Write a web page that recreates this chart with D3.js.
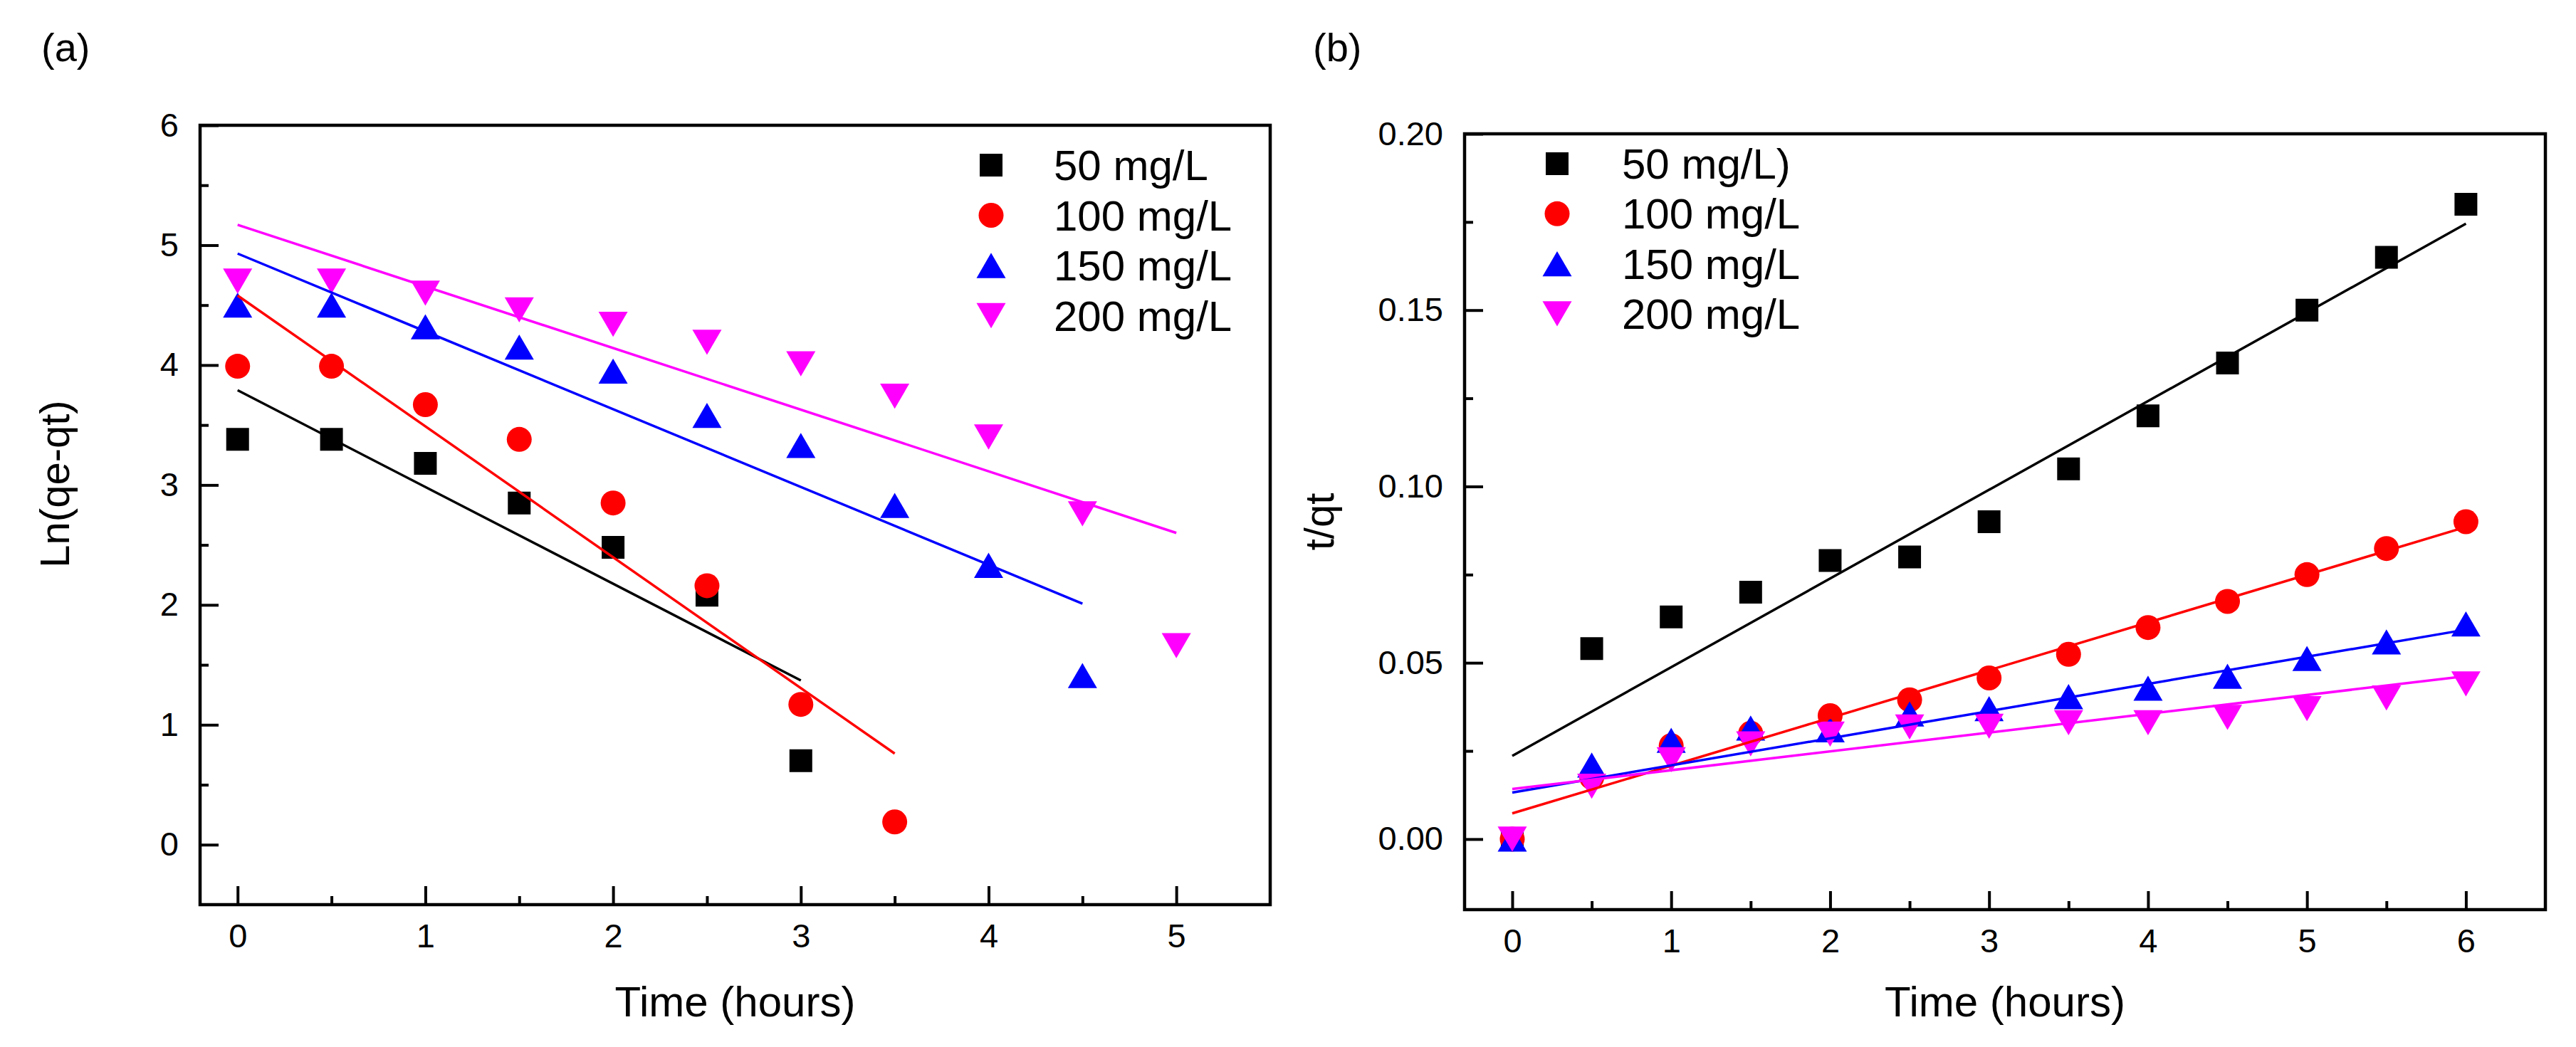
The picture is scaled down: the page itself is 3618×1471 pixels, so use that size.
<!DOCTYPE html>
<html>
<head>
<meta charset="utf-8">
<script src="https://cdn.jsdelivr.net/npm/d3@7"></script>
<style>
	body { margin: 0; background: #fff; }
	svg text { font-family: "Liberation Sans", Arial, sans-serif; fill: #000; }
</style>
</head>
<body>
<svg id="chart" width="3618" height="1471"></svg>
<script>
// values
const seriesNamesA = ["50 mg/L", "100 mg/L", "150 mg/L", "200 mg/L"];
const seriesNamesB = ["50 mg/L)", "100 mg/L", "150 mg/L", "200 mg/L"];
const seriesColors = ["#000000", "#ff0000", "#0000ff", "#ff00ff"];
const seriesShapes = ["square", "circle", "triangleUp", "triangleDown"];

// (a) pseudo-first-order, Ln(qe-qt)
const timeA = [0, 0.5, 1, 1.5, 2, 2.5, 3, 3.5, 4, 4.5, 5];
const lnA50 = [3.38, 3.38, 3.18, 2.85, 2.48, 2.08, 0.70];
const lnA100 = [3.99, 3.99, 3.67, 3.38, 2.85, 2.16, 1.17, 0.19];
const lnA150 = [4.50, 4.50, 4.32, 4.15, 3.95, 3.58, 3.33, 2.83, 2.33, 1.41];
const lnA200 = [4.70, 4.70, 4.60, 4.46, 4.34, 4.19, 4.01, 3.74, 3.40, 2.76, 1.66];
// linear fit ends: value at t=0 and at the last time
const fitAEndTime = [3, 3.5, 4.5, 5];
const fitAStart = [3.79, 4.58, 4.93, 5.17];
const fitAEnd = [1.37, 0.76, 2.01, 2.60];

// (b) pseudo-second-order, t/qt
const timeB = [0, 0.5, 1, 1.5, 2, 2.5, 3, 3.5, 4, 4.5, 5, 5.5, 6];
const tqB50 = [0, 0.054, 0.063, 0.070, 0.079, 0.080, 0.090, 0.105, 0.120, 0.135, 0.150, 0.165, 0.180];
const tqB100 = [0, 0.0175, 0.0265, 0.030, 0.035, 0.0395, 0.0457, 0.0524, 0.060, 0.0674, 0.075, 0.0824, 0.090];
const tqB150 = [0, 0.021, 0.028, 0.0315, 0.031, 0.0355, 0.037, 0.0404, 0.0428, 0.0462, 0.0512, 0.0559, 0.061];
const tqB200 = [0, 0.015, 0.0225, 0.027, 0.0298, 0.0318, 0.032, 0.033, 0.033, 0.0345, 0.037, 0.040, 0.044];
const fitBEndTime = [6, 6, 6, 6];
const fitBStart = [0.0236, 0.0073, 0.0132, 0.0142];
const fitBEnd = [0.1745, 0.0885, 0.0594, 0.0462];

// tick values
const ticksAX = [0, 1, 2, 3, 4, 5];
const minorAX = [0.5, 1.5, 2.5, 3.5, 4.5];
const ticksAY = [0, 1, 2, 3, 4, 5, 6];
const minorAY = [0.5, 1.5, 2.5, 3.5, 4.5, 5.5];
const ticksBX = [0, 1, 2, 3, 4, 5, 6];
const minorBX = [0.5, 1.5, 2.5, 3.5, 4.5, 5.5];
const ticksBY = [0, 0.05, 0.10, 0.15, 0.20];
const minorBY = [0.025, 0.075, 0.125, 0.175];

const FONT = "Liberation Sans, Arial, sans-serif";
const TICK_FONT = 47;
const TITLE_FONT = 60;
const MAJOR_TICK = 26;
const MINOR_TICK = 12;

const svg = d3.select("#chart");
svg.append("rect")
	.attr("width", 3618)
	.attr("height", 1471)
	.attr("fill", "#fff");

// symbols centred on their bounding box, like Origin draws them
const triangleUp = {
	draw(context, size) {
		const w = Math.sqrt(size), h = w * 0.86;
		context.moveTo(0, -h / 2);
		context.lineTo(w / 2, h / 2);
		context.lineTo(-w / 2, h / 2);
		context.closePath();
	}
};
const triangleDown = {
	draw(context, size) {
		const w = Math.sqrt(size), h = w * 0.86;
		context.moveTo(0, h / 2);
		context.lineTo(w / 2, -h / 2);
		context.lineTo(-w / 2, -h / 2);
		context.closePath();
	}
};
const symbolTypes = {
	square: [d3.symbolSquare, 32 * 32],
	circle: [d3.symbolCircle, Math.PI * 17.5 * 17.5],
	triangleUp: [triangleUp, 41 * 41],
	triangleDown: [triangleDown, 41 * 41]
};

function symbolPath(shape) {
	const [type, size] = symbolTypes[shape];
	return d3.symbol().type(type).size(size)();
}

function styleAxis(sel, fontSize) {
	sel.select(".domain").remove();
	sel.attr("font-family", FONT)
		.attr("font-size", fontSize);
	sel.selectAll(".tick line")
		.attr("stroke", "#000")
		.attr("stroke-width", 4);
	sel.selectAll(".tick text")
		.attr("fill", "#000");
}

function drawPanel(p) {
	const g = svg.append("g").attr("class", "panel");

	const x = d3.scaleLinear().domain(p.xDomain).range([p.left, p.right]);
	const y = d3.scaleLinear().domain(p.yDomain).range([p.bottom, p.top]);

	// axes, ticks pointing inwards
	g.append("g")
		.attr("transform", `translate(0,${p.bottom})`)
		.call(d3.axisBottom(x).tickValues(p.minorX).tickSize(-MINOR_TICK).tickFormat(""))
		.call(styleAxis, TICK_FONT);
	g.append("g")
		.attr("transform", `translate(0,${p.bottom})`)
		.call(d3.axisBottom(x).tickValues(p.ticksX).tickSize(-MAJOR_TICK).tickPadding(27).tickFormat(d3.format("d")))
		.call(styleAxis, TICK_FONT);
	g.append("g")
		.attr("transform", `translate(${p.left},0)`)
		.call(d3.axisLeft(y).tickValues(p.minorY).tickSize(-MINOR_TICK).tickFormat(""))
		.call(styleAxis, TICK_FONT);
	g.append("g")
		.attr("transform", `translate(${p.left},0)`)
		.call(d3.axisLeft(y).tickValues(p.ticksY).tickSize(-MAJOR_TICK).tickPadding(30).tickFormat(p.yFormat))
		.call(styleAxis, TICK_FONT);

	// frame
	g.append("rect")
		.attr("x", p.left)
		.attr("y", p.top)
		.attr("width", p.right - p.left)
		.attr("height", p.bottom - p.top)
		.attr("fill", "none")
		.attr("stroke", "#000")
		.attr("stroke-width", 4.5);

	// points, drawn in series order so later series sit on top
	p.series.forEach((values, i) => {
		const pts = values.map((v, j) => [p.time[j], v]);
		g.append("g")
			.selectAll("path")
			.data(pts)
			.join("path")
			.attr("transform", d => `translate(${x(d[0])},${y(d[1])})`)
			.attr("d", symbolPath(seriesShapes[i]))
			.attr("fill", seriesColors[i]);
	});

	// linear fits
	const line = d3.line().x(d => x(d[0])).y(d => y(d[1]));
	p.fitStart.forEach((v0, i) => {
		g.append("path")
			.attr("d", line([[0, v0], [p.fitEndTime[i], p.fitEnd[i]]]))
			.attr("fill", "none")
			.attr("stroke", seriesColors[i])
			.attr("stroke-width", 3.5);
	});

	// legend
	const legend = g.append("g").attr("class", "legend");
	p.names.forEach((name, i) => {
		const ly = p.legend.y0 + i * p.legend.dy;
		legend.append("path")
			.attr("transform", `translate(${p.legend.symX},${ly})`)
			.attr("d", symbolPath(seriesShapes[i]))
			.attr("fill", seriesColors[i]);
		legend.append("text")
			.attr("x", p.legend.textX)
			.attr("y", ly)
			.attr("dy", "0.35em")
			.attr("font-size", TITLE_FONT)
			.text(name);
	});

	// titles
	g.append("text")
		.attr("x", (p.left + p.right) / 2)
		.attr("y", 1428)
		.attr("text-anchor", "middle")
		.attr("font-size", TITLE_FONT)
		.text("Time (hours)");
	g.append("text")
		.attr("transform", `translate(${p.left - 184},${p.yTitleCenter}) rotate(-90)`)
		.attr("text-anchor", "middle")
		.attr("font-size", TITLE_FONT - 2)
		.text(p.yTitle);
	g.append("text")
		.attr("x", p.tag.x)
		.attr("y", 86)
		.attr("font-size", 56)
		.text(p.tag.text);
}

drawPanel({
	left: 281, right: 1784, top: 176, bottom: 1271,
	xDomain: [-0.2, 5.5], yDomain: [-0.5, 6],
	ticksX: ticksAX, minorX: minorAX, ticksY: ticksAY, minorY: minorAY,
	yFormat: d3.format("d"),
	time: timeA,
	series: [lnA50, lnA100, lnA150, lnA200],
	fitStart: fitAStart, fitEnd: fitAEnd, fitEndTime: fitAEndTime,
	names: seriesNamesA,
	legend: { symX: 1392, textX: 1480, y0: 232, dy: 70.5 },
	yTitle: "Ln(qe-qt)", yTitleCenter: 680,
	tag: { x: 58, text: "(a)" }
});

drawPanel({
	left: 2057, right: 3575, top: 188, bottom: 1278,
	xDomain: [-0.3, 6.5], yDomain: [-0.02, 0.20],
	ticksX: ticksBX, minorX: minorBX, ticksY: ticksBY, minorY: minorBY,
	yFormat: d3.format(".2f"),
	time: timeB,
	series: [tqB50, tqB100, tqB150, tqB200],
	fitStart: fitBStart, fitEnd: fitBEnd, fitEndTime: fitBEndTime,
	names: seriesNamesB,
	legend: { symX: 2187, textX: 2278, y0: 230, dy: 70.3 },
	yTitle: "t/qt", yTitleCenter: 733,
	tag: { x: 1844, text: "(b)" }
});
</script>
</body>
</html>
